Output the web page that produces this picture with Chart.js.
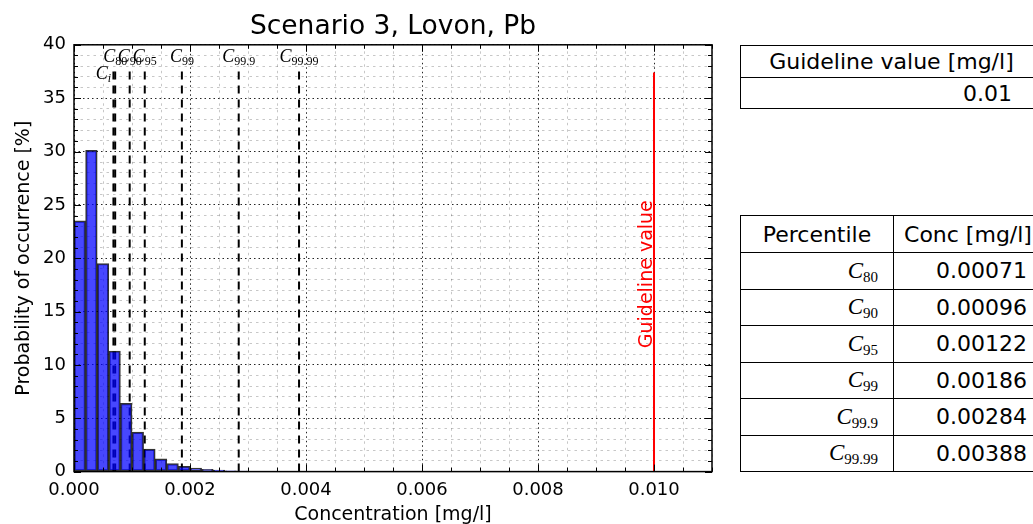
<!DOCTYPE html>
<html>
<head>
<meta charset="utf-8">
<script src="https://cdn.jsdelivr.net/npm/chart.js@4.4.1/dist/chart.umd.min.js"></script>
<style>
html, body { margin: 0; padding: 0; width: 1033px; height: 524px; overflow: hidden; background: #fff; }
#chartBox { position: absolute; left: 0; top: 0; width: 735px; height: 524px; }
table { position: absolute; border-collapse: collapse; table-layout: fixed; font-family: 'DejaVu Sans', sans-serif; font-size: 22px; color: #000; }
td { border: 1.5px solid #000; padding: 0; white-space: nowrap; overflow: hidden; box-sizing: border-box; }
.c { text-align: center; }
.r { text-align: right; }
.m { font-family: 'Liberation Serif', serif; }
.m i { font-size: 23px; }
.m sub { font-size: 15px; font-style: normal; vertical-align: -4px; line-height: 0; }
</style>
</head>
<body>
<div id="chartBox"><canvas id="histChart" width="735" height="524"></canvas></div>
<table id="guideTable" style="left:740px; top:45px; width:303px;"></table>
<table id="pctTable" style="left:740px; top:215px; width:302px;"></table>

<script>
// histogram bins (bin width 0.0002 mg/l), centres and heights in %
const binCenters = [0.0001, 0.0003, 0.0005, 0.0007, 0.0009, 0.0011, 0.0013, 0.0015,
                    0.0017, 0.0019, 0.0021, 0.0023, 0.0025, 0.0027, 0.0029];
const probability = [23.5, 30.1, 19.5, 11.3, 6.4, 3.7, 2.1, 1.2,
                     0.75, 0.5, 0.33, 0.22, 0.14, 0.08, 0.05];

const percentileNames = ['80', '90', '95', '99', '99.9', '99.99'];
const percentileConc = [0.00071, 0.00096, 0.00122, 0.00186, 0.00284, 0.00388];
const ciConc = 0.00068;
const guidelineValue = 0.01;

const xMax = 0.011;
const yMax = 40;


function isMajorX(tick) {
    if (!tick) return false;
    const r = tick.value / 0.002;
    return Math.abs(r - Math.round(r)) < 1e-6;
}
function isMajorY(tick) {
    if (!tick) return false;
    return tick.value % 5 === 0;
}


// vertical dashed lines for C_i and the percentiles
const markerSets = [ciConc].concat(percentileConc).map(v => ({
    type: 'line',
    data: [{x: v, y: 0}, {x: v, y: 37.6}],
    borderColor: '#000',
    borderWidth: 2,
    borderDash: [8, 6],
    pointRadius: 0,
    fill: false
}));

const guideSet = {
    type: 'line',
    data: [{x: guidelineValue, y: 0}, {x: guidelineValue, y: 37.4}],
    borderColor: '#ff0000',
    borderWidth: 2,
    pointRadius: 0,
    fill: false
};


function drawMathLabel(ctx, sub, cx, baseY, bigSize, subSize) {
    ctx.font = 'italic ' + bigSize + 'px "Liberation Serif"';
    const wC = ctx.measureText('C').width;
    ctx.font = subSize + 'px "Liberation Serif"';
    const wS = ctx.measureText(sub).width;
    const x0 = cx - (wC + wS) / 2;
    ctx.textAlign = 'left';
    ctx.textBaseline = 'alphabetic';
    ctx.font = 'italic ' + bigSize + 'px "Liberation Serif"';
    ctx.fillText('C', x0, baseY);
    ctx.font = (sub === 'i' ? 'italic ' : '') + subSize + 'px "Liberation Serif"';
    ctx.fillText(sub, x0 + wC, baseY + 3);
}


const decorPlugin = {
    id: 'decor',
    afterDraw(chart) {
        const {ctx, chartArea: a, scales: {x, y}} = chart;
        ctx.save();

        // tick marks pointing inwards on all four sides
        ctx.strokeStyle = '#000';
        ctx.lineWidth = 1;
        ctx.beginPath();
        x.ticks.forEach(t => {
            const px = Math.round(x.getPixelForValue(t.value)) + 0.5;
            const len = isMajorX(t) ? 7 : 4;
            ctx.moveTo(px, a.bottom); ctx.lineTo(px, a.bottom - len);
            ctx.moveTo(px, a.top); ctx.lineTo(px, a.top + len);
        });
        y.ticks.forEach(t => {
            const py = Math.round(y.getPixelForValue(t.value)) + 0.5;
            const len = isMajorY(t) ? 7 : 4;
            ctx.moveTo(a.left, py); ctx.lineTo(a.left + len, py);
            ctx.moveTo(a.right, py); ctx.lineTo(a.right - len, py);
        });
        ctx.stroke();

        ctx.lineWidth = 1.5;
        ctx.strokeRect(a.left, a.top, a.right - a.left, a.bottom - a.top);

        // C labels
        ctx.fillStyle = '#000';
        percentileConc.forEach((v, i) => {
            drawMathLabel(ctx, percentileNames[i], x.getPixelForValue(v), y.getPixelForValue(38.4), 18, 12);
        });
        drawMathLabel(ctx, 'i', x.getPixelForValue(ciConc) - 10, y.getPixelForValue(36.8), 18, 12);

        // guideline text
        ctx.fillStyle = '#ff0000';
        ctx.font = '19px "DejaVu Sans"';
        ctx.textAlign = 'center';
        ctx.textBaseline = 'alphabetic';
        ctx.translate(x.getPixelForValue(guidelineValue) - 2, y.getPixelForValue(18.5));
        ctx.rotate(-Math.PI / 2);
        ctx.fillText('Guideline value', 0, 0);

        ctx.restore();
    }
};


document.addEventListener('DOMContentLoaded', function() {
    Chart.defaults.font.family = "'DejaVu Sans'";
    Chart.defaults.color = '#000';

    const ctx = document.getElementById('histChart').getContext('2d');

    new Chart(ctx, {
        type: 'bar',
        data: {
            datasets: [{
                type: 'bar',
                data: binCenters.map((c, i) => ({x: c, y: probability[i]})),
                backgroundColor: 'rgba(0,0,255,0.72)',
                borderColor: 'rgba(0,0,0,0.8)',
                borderWidth: 1.5,
                borderSkipped: false,
                barPercentage: 1,
                categoryPercentage: 1
            }].concat(markerSets, [guideSet])
        },
        options: {
            responsive: false,
            animation: false,
            layout: { padding: { left: 0, right: 23, top: 0, bottom: 0 } },
            plugins: {
                legend: { display: false },
                tooltip: { enabled: false },
                title: {
                    display: true,
                    text: 'Scenario 3, Lovon, Pb',
                    fullSize: false,
                    font: { size: 26.5, weight: 'normal' },
                    padding: { top: 11, bottom: 2 }
                }
            },
            scales: {
                x: {
                    type: 'linear',
                    min: 0,
                    max: xMax,
                    offset: false,
                    z: 1,
                    afterFit: s => { s.height = 52.4; },
                    grid: {
                        offset: false,
                        drawTicks: false,
                        lineWidth: 1,
                        color: c => isMajorX(c.tick) ? 'rgba(0,0,0,0.85)' : 'rgba(0,0,0,0.22)'
                    },
                    border: {
                        display: false,
                        dash: c => c.tick ? (isMajorX(c.tick) ? [1.5, 3] : [2.5, 4]) : []
                    },
                    ticks: {
                        stepSize: 0.0005,
                        maxTicksLimit: 100,
                        autoSkip: false,
                        maxRotation: 0,
                        padding: 8,
                        font: { size: 18 },
                        callback: function(v) {
                            const r = v / 0.002;
                            return Math.abs(r - Math.round(r)) < 1e-6 ? v.toFixed(3) : '';
                        }
                    },
                    title: {
                        display: true,
                        text: 'Concentration [mg/l]',
                        font: { size: 19 },
                        padding: { top: 0, bottom: -2 }
                    }
                },
                y: {
                    min: 0,
                    max: yMax,
                    z: 1,
                    afterFit: s => { s.width = 74; },
                    grid: {
                        drawTicks: false,
                        lineWidth: 1,
                        color: c => isMajorY(c.tick) ? 'rgba(0,0,0,0.85)' : 'rgba(0,0,0,0.22)'
                    },
                    border: {
                        display: false,
                        dash: c => c.tick ? (isMajorY(c.tick) ? [1.5, 3] : [2.5, 4]) : []
                    },
                    ticks: {
                        stepSize: 1,
                        maxTicksLimit: 100,
                        autoSkip: false,
                        padding: 8,
                        font: { size: 18 },
                        callback: v => (v % 5 === 0 ? String(v) : '')
                    },
                    title: {
                        display: true,
                        text: 'Probability of occurrence [%]',
                        font: { size: 19 },
                        padding: { top: 13, bottom: 0 }
                    }
                }
            }
        },
        plugins: [decorPlugin]
    });


    // tables on the right
    const guideTable = document.getElementById('guideTable');
    guideTable.innerHTML =
        '<tr style="height:32px"><td class="c">Guideline value [mg/l]</td></tr>' +
        '<tr style="height:31px"><td class="r" style="padding-right:30px">' + guidelineValue + '</td></tr>';

    const pctTable = document.getElementById('pctTable');
    let rows = '<colgroup><col style="width:153px"><col style="width:149px"></colgroup>' +
        '<tr style="height:37px"><td class="c">Percentile</td><td class="c">Conc [mg/l]</td></tr>';
    percentileNames.forEach((n, i) => {
        rows += '<tr style="height:36.5px"><td class="r m" style="padding-right:15px"><i>C</i><sub>' + n + '</sub></td>' +
                '<td class="r" style="padding-right:15px">' + percentileConc[i].toFixed(5) + '</td></tr>';
    });
    pctTable.innerHTML = rows;
});
</script>
</body>
</html>
